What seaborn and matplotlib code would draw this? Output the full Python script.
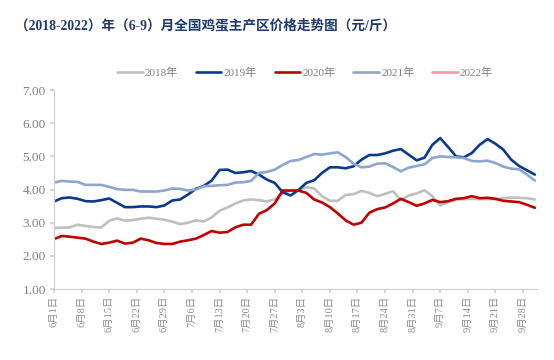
import pandas as pd
import matplotlib.pyplot as plt
import seaborn as sns
from matplotlib.lines import Line2D

# --- Data (one value every 2 days from Jun 1) ---
start_date = '2022-06-01'
day_step = 2

price_2018 = [2.84, 2.85, 2.86, 2.94, 2.90, 2.87, 2.86, 3.06, 3.13, 3.06,
              3.08, 3.12, 3.15, 3.12, 3.09, 3.03, 2.96, 3.00, 3.07, 3.04,
              3.16, 3.36, 3.46, 3.58, 3.67, 3.70, 3.68, 3.64, 3.70, 3.89,
              3.97, 3.99, 4.07, 4.03, 3.80, 3.66, 3.66, 3.84, 3.86, 3.96,
              3.90, 3.80, 3.87, 3.95, 3.68, 3.82, 3.88, 3.98, 3.80, 3.52,
              3.62, 3.70, 3.71, 3.72, 3.71, 3.71, 3.71, 3.74, 3.76, 3.75,
              3.74, 3.70]
price_2019 = [3.64, 3.74, 3.76, 3.72, 3.65, 3.64, 3.68, 3.73, 3.60, 3.47,
              3.47, 3.49, 3.49, 3.47, 3.52, 3.67, 3.70, 3.85, 4.02, 4.11,
              4.27, 4.59, 4.60, 4.50, 4.52, 4.56, 4.45, 4.30, 4.20, 3.92,
              3.82, 3.98, 4.20, 4.28, 4.50, 4.67, 4.67, 4.64, 4.70, 4.90,
              5.04, 5.04, 5.09, 5.17, 5.22, 5.05, 4.88, 4.96, 5.35, 5.55,
              5.28, 5.00, 4.97, 5.10, 5.35, 5.52, 5.38, 5.20, 4.90, 4.71,
              4.58, 4.45]
price_2020 = [2.51, 2.60, 2.58, 2.55, 2.52, 2.43, 2.36, 2.40, 2.46, 2.37,
              2.40, 2.52, 2.47, 2.39, 2.36, 2.36, 2.43, 2.47, 2.52, 2.63,
              2.75, 2.70, 2.72, 2.86, 2.94, 2.94, 3.27, 3.38, 3.58, 3.97,
              3.97, 3.97, 3.90, 3.70, 3.61, 3.47, 3.28, 3.07, 2.94, 3.00,
              3.30, 3.41, 3.46, 3.58, 3.72, 3.62, 3.51, 3.58, 3.69, 3.62,
              3.65, 3.72, 3.74, 3.80, 3.74, 3.75, 3.72, 3.66, 3.64, 3.62,
              3.54, 3.45]
price_2021 = [4.21, 4.26, 4.24, 4.23, 4.14, 4.14, 4.14, 4.08, 4.01, 3.99,
              3.99, 3.94, 3.94, 3.94, 3.97, 4.03, 4.02, 3.97, 4.00, 4.10,
              4.11, 4.13, 4.14, 4.21, 4.22, 4.26, 4.50, 4.53, 4.60, 4.74,
              4.86, 4.89, 4.98, 5.07, 5.05, 5.09, 5.12, 4.98, 4.78, 4.67,
              4.69, 4.78, 4.79, 4.68, 4.55, 4.66, 4.71, 4.76, 4.95, 5.00,
              4.98, 4.97, 4.95, 4.86, 4.85, 4.87, 4.80, 4.69, 4.63, 4.61,
              4.45, 4.27]
price_2022 = []

years = ['2018年', '2019年', '2020年', '2021年', '2022年']
colors = ['#BFBFBF', '#0A3A8A', '#C00000', '#8EA5CF', '#F29AA6']
y_ticks = [1, 2, 3, 4, 5, 6, 7]

# x positions in days since Jun 1
days = [i * day_step for i in range(len(price_2018))]
rows = []
for year, series in zip(years, [price_2018, price_2019, price_2020, price_2021, price_2022]):
    for d, v in zip(days, series):
        rows.append({'day': d, 'price': v, 'year': year})
df = pd.DataFrame(rows)

# tick labels every 7 days
tick_days = list(range(0, 120, 7))
tick_dates = pd.to_datetime(start_date) + pd.to_timedelta(tick_days, unit='D')
tick_labels = [f'{t.month}月{t.day}日' for t in tick_dates]

# --- Plot ---
sns.set_theme(style='white')
plt.rcParams['font.family'] = ['Liberation Serif', 'Noto Sans CJK SC', 'DejaVu Sans']

fig, ax = plt.subplots(figsize=(5.54, 3.6), dpi=100)
fig.subplots_adjust(left=0.0975, right=0.969, top=0.75, bottom=0.197)

palette = dict(zip(years, colors))
sns.lineplot(data=df, x='day', y='price', hue='year', palette=palette,
             hue_order=years[:4], linewidth=1.9, ax=ax, legend=False)

ax.set_xlim(0, 122.5)
ax.set_ylim(1, 7)
ax.set_yticks(y_ticks)
ax.set_yticklabels([f'{v:.2f}' for v in y_ticks])
ax.set_xticks(tick_days)
ax.set_xticklabels(tick_labels, rotation=90, fontsize=7.5, color='#8C8C8C')
ax.tick_params(axis='y', labelsize=9.5, labelcolor='#808080', length=3,
               color='#D0D0D0', left=True, pad=3)
ax.tick_params(axis='x', length=3, color='#D0D0D0', bottom=True, pad=2)
ax.set_xlabel('')
ax.set_ylabel('')

for side in ['top', 'right']:
    ax.spines[side].set_visible(False)
for side in ['left', 'bottom']:
    ax.spines[side].set_color('#D0D0D0')
    ax.spines[side].set_linewidth(0.9)

handles = [Line2D([], [], color=c, linewidth=1.9) for c in colors]
ax.legend(handles, years, loc='center', bbox_to_anchor=(0.52, 1.085), ncol=5,
          frameon=False, fontsize=8, labelcolor='#808080', handlelength=2.3,
          handletextpad=0.2, columnspacing=1.6)

fig.text(0.027, 1 - 25 / 360, '（2018-2022）年（6-9）月全国鸡蛋主产区价格走势图（元/斤）',
         fontsize=9.8, fontweight='bold', color='#1F3A6E', va='center', ha='left')

fig.savefig('out.png', dpi=100)
